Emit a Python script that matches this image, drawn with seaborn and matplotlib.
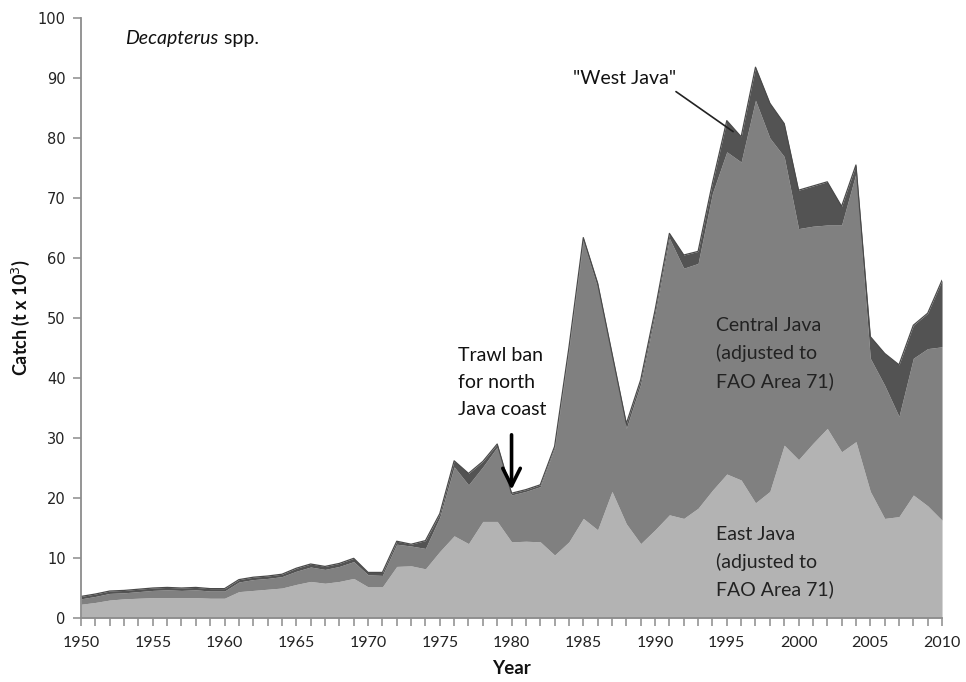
import matplotlib
matplotlib.use("Agg")
import matplotlib.pyplot as plt
from matplotlib.ticker import MultipleLocator
import numpy as np
import pandas as pd
import seaborn as sns

# Decapterus spp. catch by province (t x 10^3), 1950-2010
years = list(range(1950, 2011))
east_java = [2.3, 2.6, 3.0, 3.2, 3.3, 3.4, 3.4, 3.4, 3.4, 3.3,
             3.3, 4.4, 4.6, 4.8, 5.0, 5.6, 6.1, 5.8, 6.1, 6.6,
             5.2, 5.2, 8.6, 8.7, 8.2, 11.1, 13.7, 12.4, 16.1, 16.1,
             12.7, 12.8, 12.7, 10.5, 12.7, 16.6, 14.7, 21.1, 15.7, 12.4,
             14.7, 17.2, 16.6, 18.3, 21.3, 24.0, 23.0, 19.2, 21.1, 28.8,
             26.4, 29.1, 31.6, 27.7, 29.4, 21.1, 16.6, 16.9, 20.5, 18.7,
             16.3]
central_java = [0.9, 1.0, 1.1, 1.0, 1.1, 1.2, 1.3, 1.2, 1.3, 1.2,
                1.2, 1.6, 1.8, 1.8, 1.9, 2.2, 2.4, 2.3, 2.5, 2.8,
                2.0, 1.9, 3.7, 3.3, 3.4, 5.7, 11.5, 9.8, 9.1, 12.4,
                7.8, 8.3, 9.2, 17.8, 32.0, 46.3, 40.4, 22.5, 15.9, 26.6,
                35.9, 46.1, 41.7, 40.8, 49.5, 53.7, 53.0, 67.1, 58.9, 48.1,
                38.5, 36.2, 33.9, 37.8, 44.7, 22.2, 22.2, 16.7, 22.8, 26.2,
                28.9]
west_java = [0.4, 0.4, 0.4, 0.4, 0.4, 0.4, 0.4, 0.4, 0.4, 0.4,
             0.4, 0.4, 0.4, 0.4, 0.4, 0.5, 0.5, 0.5, 0.5, 0.55,
             0.4, 0.5, 0.5, 0.3, 1.3, 0.6, 1.0, 1.9, 0.9, 0.5,
             0.3, 0.3, 0.3, 0.3, 0.4, 0.5, 0.7, 0.5, 0.8, 0.7,
             0.7, 0.8, 2.2, 2.0, 1.7, 5.2, 4.2, 5.5, 5.8, 5.5,
             6.4, 6.7, 7.2, 3.1, 1.4, 3.6, 5.3, 8.6, 5.5, 5.9,
             11.1]

df = pd.DataFrame({"Year": years, "East": east_java,
                   "Central": central_java, "West": west_java})
df["Total"] = df["East"] + df["Central"] + df["West"]

sns.set_theme(style="white")
plt.rcParams["font.family"] = ["Lato", "DejaVu Sans"]

fig = plt.figure(figsize=(9.66, 6.82), dpi=100)
ax = fig.add_axes([0.0839, 0.0938, 0.8913, 0.8798])

c_east, c_central, c_west = "#b3b3b3", "#808080", "#535353"
ax.stackplot(df["Year"], df["East"], df["Central"], df["West"],
             colors=[c_east, c_central, c_west], linewidth=0)
sns.lineplot(data=df, x="Year", y="Total", ax=ax, color="#4a4a4a",
             linewidth=0.9, legend=False)

ax.set_xlim(1950, 2010)
ax.set_ylim(0, 100)
ax.xaxis.set_major_locator(MultipleLocator(5))
ax.xaxis.set_minor_locator(MultipleLocator(1))
ax.yaxis.set_major_locator(MultipleLocator(10))

spine_col = "#8c8c8c"
for side in ("top", "right"):
    ax.spines[side].set_visible(False)
for side in ("left", "bottom"):
    ax.spines[side].set_color(spine_col)
    ax.spines[side].set_linewidth(1.3)

ax.tick_params(axis="both", which="both", direction="out", length=6,
               width=1.1, color=spine_col, bottom=True, left=True)
ax.tick_params(axis="y", which="minor", left=False)
ax.tick_params(axis="x", which="major", labelsize=11.5, pad=7, labelcolor="#222222")
ax.tick_params(axis="y", which="major", labelsize=10.5, pad=5, labelcolor="#222222")
for lab in ax.get_yticklabels():
    lab.set_fontfamily("DejaVu Sans")

ax.set_xlabel("Year", fontsize=13.5, fontweight="bold", labelpad=7, color="#111111")
ax.set_ylabel("Catch (t x 10$^3$)", fontsize=13, fontweight="bold", labelpad=4,
              color="#111111")
ax.grid(False)

# Species label: italic genus followed by plain "spp."
genus = ax.text(1953.1, 96.6, "Decapterus", fontsize=14, style="italic",
                va="center", ha="left", color="#111111")
ax.annotate(" spp.", xy=(1.0, 0.5), xycoords=genus, fontsize=14,
            va="center", ha="left", color="#111111")

# Trawl ban note with arrow
ax.text(1976.3, 45.2, "Trawl ban\nfor north\nJava coast", fontsize=14,
        va="top", ha="left", linespacing=1.72, color="#111111")
ax.annotate("", xy=(1980, 20.9), xytext=(1980, 31.0),
            arrowprops=dict(arrowstyle="->,head_width=0.35,head_length=0.7",
                            color="black", lw=2.6, mutation_scale=18))

# West Java pointer
ax.text(1987.9, 90.0, "\"West Java\"", fontsize=14, va="center", ha="center",
        color="#111111")
ax.annotate("", xy=(1995.6, 80.8), xytext=(1991.3, 88.0),
            arrowprops=dict(arrowstyle="-", color="#222222", lw=1.2))

# Province labels
ax.text(1994.25, 50.1, "Central Java\n(adjusted to\nFAO Area 71)", fontsize=14,
        va="top", ha="left", linespacing=1.66, color="#222222")
ax.text(1994.25, 15.4, "East Java\n(adjusted to\nFAO Area 71)", fontsize=14,
        va="top", ha="left", linespacing=1.66, color="#222222")

fig.savefig("out.png", dpi=100)
